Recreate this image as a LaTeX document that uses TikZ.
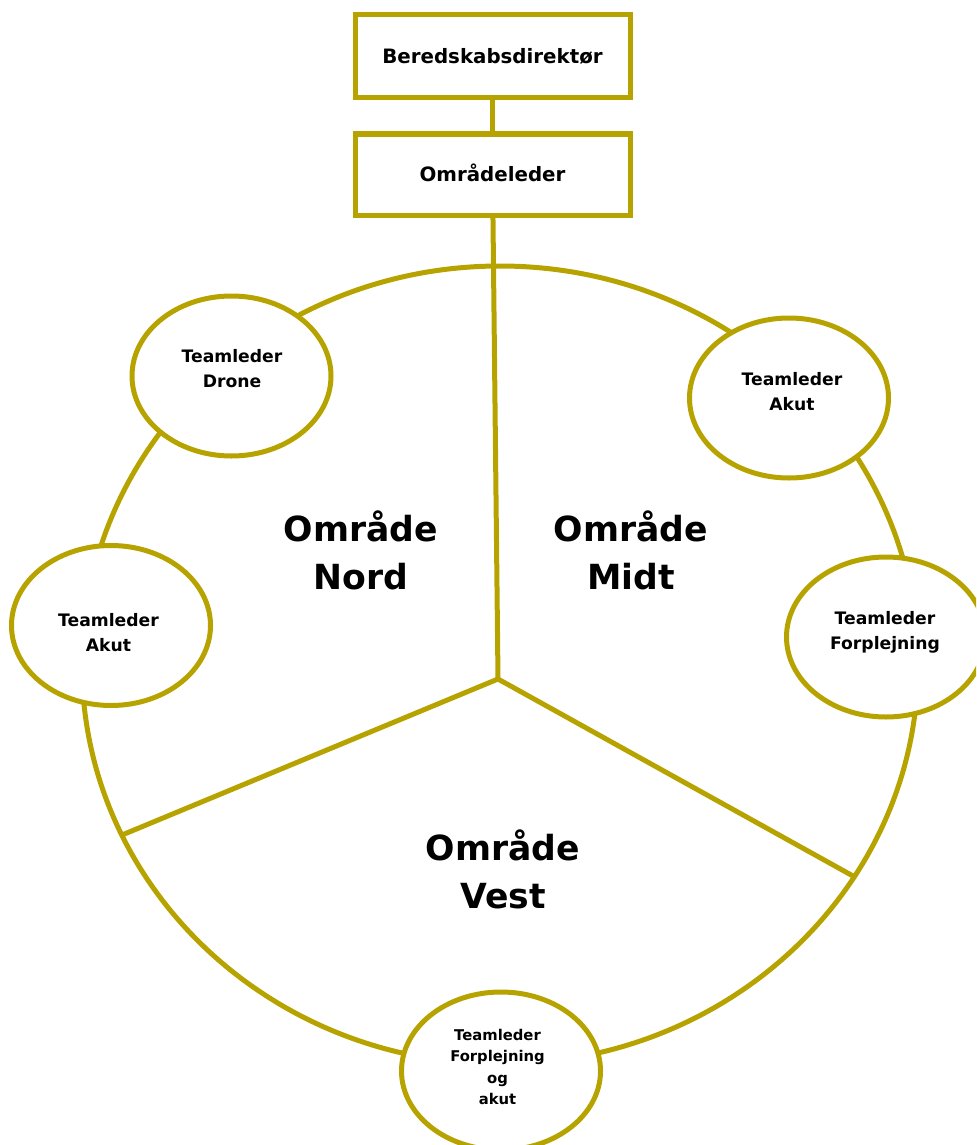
\documentclass[tikz,border=0pt]{standalone}
\usepackage{fontspec}
\setmainfont{DejaVu Sans}
\usetikzlibrary{shapes.geometric}

\begin{document}
\begin{tikzpicture}[x = 0.5pt, y = -0.5pt, line width = 2.5pt,
    chartbox/.style = {draw = lineColor, rectangle, minimum width = 137.5pt, minimum height = 41.5pt, inner sep = 0pt, font = {\fontsize{9.9}{12}\selectfont\bfseries}},
    teamoval/.style = {draw = lineColor, fill = white, ellipse, minimum width = 99.5pt, minimum height = 80pt, inner sep = 0pt},
    teamtext/.style = {align = center, inner sep = 0pt, font = {\fontsize{8.6}{12.5}\selectfont\bfseries}},
    areatext/.style = {align = center, inner sep = 0pt, font = {\fontsize{17.3}{24}\selectfont\bfseries}}]
            % \draw [help lines, step = 50] (0,0) grid (976,1145);
            \clip (0,0) rectangle (976,1145);

            \definecolor{lineColor}{RGB}{183,163,0};

            \node [chartbox] (director) at (492.5,56.5) {Beredskabsdirektør};
            \node [chartbox, minimum height = 40.5pt, text height = 7.5pt] (leader) at (492.5,174.5) {Områdeleder};
            \draw [lineColor] (director) -- (leader);

            % the big circle, cut in three
            \draw [lineColor] (500,665) ellipse [x radius = 418, y radius = 399];

            \coordinate (hub) at (498,679);
            \coordinate (rimWest) at (122,835);
            \coordinate (rimEast) at (853,876);

            \draw [lineColor] (leader) -- (hub);
            \draw [lineColor] (hub) -- (rimWest);
            \draw [lineColor] (hub) -- (rimEast);

            \node [areatext] (nordText) at (361,550) {Område\\Nord};
            \node [areatext] (midtText) at (631,550) {Område\\Midt};
            \node [areatext] (vestText) at (503,869) {Område\\Vest};

            % team leaders on the rim
            \node [teamoval] (droneLead) at (231.5,376) {};
            \node [teamoval] (akutWest) at (111,625.5) {};
            \node [teamoval] (akutEast) at (789,398) {};
            \node [teamoval] (foodEast) at (886,637) {};
            \node [teamoval, minimum height = 79pt] (foodSouth) at (501,1071) {};

            \node [teamtext] (droneText) at (232,368.5) {Teamleder\\Drone};
            \node [teamtext] (akutWestText) at (108.5,632.5) {Teamleder\\Akut};
            \node [teamtext] (akutEastText) at (792,392) {Teamleder\\Akut};
            \node [teamtext] (foodEastText) at (885,632) {Teamleder\\Forplejning};
            \node [teamtext, font = {\fontsize{7.4}{10.75}\selectfont\bfseries}] (foodSouthText) at (497.5,1067) {Teamleder\\Forplejning\\og\\akut};

        \end{tikzpicture}
\end{document}
